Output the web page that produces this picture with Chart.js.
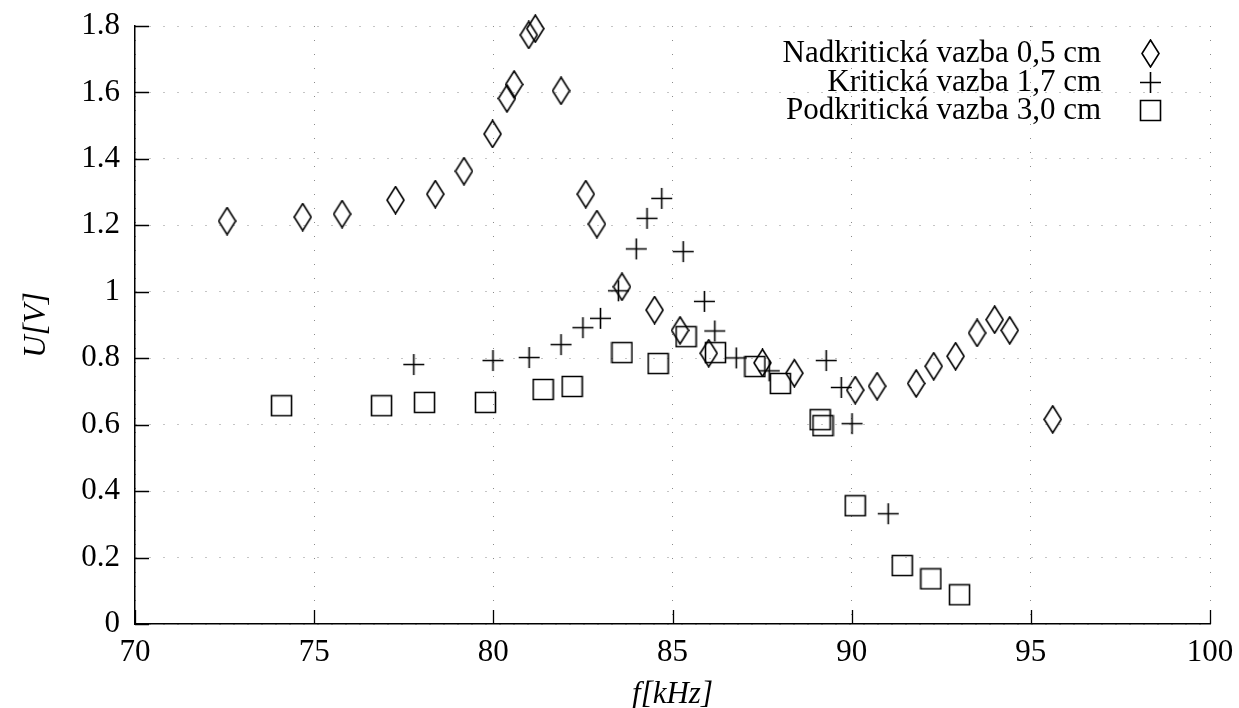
<!DOCTYPE html>
<html>
<head>
<meta charset="utf-8">
<script src="https://cdn.jsdelivr.net/npm/chart.js@4.4.1/dist/chart.umd.min.js"></script>
<style>
  html, body { margin: 0; padding: 0; background: #fff; }
  #wrap { width: 1239px; height: 708px; position: relative; }
</style>
</head>
<body>
<div id="wrap"><canvas id="chart"></canvas></div>
<script>
// values, f in kHz, U in V
const nadF = [72.57, 74.68, 75.78, 77.27, 78.38, 79.18, 79.98, 80.38, 80.58, 80.99, 81.17, 81.89, 82.58, 82.89,
              83.59, 84.50, 85.21, 86.01, 87.51, 88.40, 90.10, 90.71, 91.80, 92.29, 92.90, 93.50, 93.99, 94.41, 95.61];
const nadU = [1.213, 1.225, 1.234, 1.276, 1.294, 1.363, 1.475, 1.582, 1.624, 1.773, 1.792, 1.605, 1.294, 1.204,
              1.015, 0.945, 0.884, 0.815, 0.786, 0.755, 0.704, 0.716, 0.724, 0.776, 0.806, 0.876, 0.916, 0.884, 0.616];

const kritF = [77.78, 79.99, 81.00, 81.89, 82.50, 82.99, 83.49, 83.99, 84.29, 84.70, 85.30, 85.89, 86.18, 86.78,
               87.70, 89.29, 89.71, 90.01, 91.02];
const kritU = [0.781, 0.793, 0.802, 0.841, 0.892, 0.920, 1.003, 1.129, 1.221, 1.281, 1.121, 0.971, 0.882, 0.801,
               0.762, 0.793, 0.712, 0.603, 0.332];

const podF = [74.09, 76.88, 78.08, 79.78, 81.39, 82.20, 83.59, 84.60, 85.38, 86.20, 87.30, 88.01, 89.12, 89.20,
              90.10, 91.41, 92.21, 93.01];
const podU = [0.657, 0.657, 0.667, 0.667, 0.706, 0.715, 0.817, 0.784, 0.865, 0.817, 0.775, 0.724, 0.615, 0.597,
              0.356, 0.176, 0.136, 0.088];

const seriesLabels = ['Nadkritická vazba 0,5 cm', 'Kritická vazba 1,7 cm', 'Podkritická vazba 3,0 cm'];
const xTicks = [70, 75, 80, 85, 90, 95, 100];
const yTicks = [0, 0.2, 0.4, 0.6, 0.8, 1, 1.2, 1.4, 1.6, 1.8];
const yTickLabels = ['0', '0.2', '0.4', '0.6', '0.8', '1', '1.2', '1.4', '1.6', '1.8'];

const FONT = '"Liberation Serif", "Times New Roman", serif';

// gnuplot-like open markers drawn into small canvases
function makeMarker(kind) {
    let c = document.createElement('canvas');
    let w = kind === 'diamond' ? 19 : 23;
    let h = kind === 'diamond' ? 29 : 23;
    c.width = w;
    c.height = h;
    let g = c.getContext('2d');
    g.strokeStyle = '#000';
    g.lineWidth = 1.6;
    g.beginPath();
    if (kind === 'diamond') {
        g.moveTo(w / 2, 1);
        g.lineTo(w - 1, h / 2);
        g.lineTo(w / 2, h - 1);
        g.lineTo(1, h / 2);
        g.closePath();
    } else if (kind === 'cross') {
        g.moveTo(1, h / 2);
        g.lineTo(w - 1, h / 2);
        g.moveTo(w / 2, 1);
        g.lineTo(w / 2, h - 1);
    } else {
        g.rect(1.5, 1.5, w - 3, h - 3);
    }
    g.stroke();
    return c;
}

const toPoints = (xs, ys) => xs.map((x, i) => ({ x: x, y: ys[i] }));

// ticks pointing into the plot, only on left and bottom axis
const innerTicks = {
    id: 'innerTicks',
    afterDatasetsDraw(chart) {
        const { ctx, chartArea, scales } = chart;
        ctx.save();
        ctx.strokeStyle = '#000';
        ctx.lineWidth = 1.3;
        ctx.beginPath();
        xTicks.forEach(v => {
            let px = Math.round(scales.x.getPixelForValue(v)) + 0.5;
            ctx.moveTo(px, chartArea.bottom);
            ctx.lineTo(px, chartArea.bottom - 14);
        });
        yTicks.forEach(v => {
            let py = Math.round(scales.y.getPixelForValue(v)) + 0.5;
            ctx.moveTo(chartArea.left, py);
            ctx.lineTo(chartArea.left + 14, py);
        });
        ctx.stroke();
        ctx.restore();
    }
};

// key in the top right corner: text right aligned, marker after it
const keyBox = {
    id: 'keyBox',
    afterDraw(chart) {
        const ctx = chart.ctx;
        ctx.save();
        ctx.font = '31px ' + FONT;
        ctx.fillStyle = '#000';
        ctx.textAlign = 'right';
        ctx.textBaseline = 'alphabetic';
        chart.data.datasets.forEach((ds, i) => {
            let cy = 51.5 + i * 28.7;
            ctx.fillText(ds.label, 1101, cy + 10.5);
            let img = ds.pointStyle;
            ctx.drawImage(img, Math.round(1150 - img.width / 2), Math.round(cy + 2 - img.height / 2));
        });
        ctx.restore();
    }
};

Chart.defaults.color = '#000';
Chart.defaults.font.family = FONT;

new Chart(document.getElementById('chart'), {
    type: 'scatter',
    data: {
        datasets: [
            { label: seriesLabels[0], data: toPoints(nadF, nadU), pointStyle: makeMarker('diamond'), pointRadius: 10, order: 0, clip: false },
            { label: seriesLabels[1], data: toPoints(kritF, kritU), pointStyle: makeMarker('cross'), pointRadius: 10, order: 1, clip: false },
            { label: seriesLabels[2], data: toPoints(podF, podU), pointStyle: makeMarker('square'), pointRadius: 10, order: 2, clip: false }
        ]
    },
    options: {
        responsive: true,
        maintainAspectRatio: false,
        animation: false,
        layout: { padding: { top: 26, right: 29, left: 0, bottom: 0 } },
        plugins: {
            legend: { display: false },
            tooltip: { enabled: false }
        },
        scales: {
            x: {
                type: 'linear',
                min: 70,
                max: 100,
                afterBuildTicks: s => { s.ticks = xTicks.map(v => ({ value: v })); },
                afterFit: s => { s.height = 84; s.paddingLeft = 0; s.paddingRight = 0; },
                ticks: { font: { size: 31 }, padding: 10, maxRotation: 0 },
                grid: { color: '#8a8a8a', lineWidth: 1, drawTicks: false },
                border: { display: true, color: '#000', width: 1.5, dash: [1, 13] },
                title: {
                    display: true,
                    text: 'f[kHz]',
                    font: { size: 31, style: 'italic', lineHeight: 0.85 },
                    padding: 0
                }
            },
            y: {
                type: 'linear',
                min: 0,
                max: 1.8,
                afterBuildTicks: s => { s.ticks = yTicks.map(v => ({ value: v })); },
                afterFit: s => { s.width = 135; s.paddingTop = 0; s.paddingBottom = 0; },
                ticks: {
                    font: { size: 31 },
                    padding: 15,
                    callback: (value, index) => yTickLabels[index]
                },
                grid: { color: '#8a8a8a', lineWidth: 1, drawTicks: false },
                border: { display: true, color: '#000', width: 1.5, dash: [1, 13] },
                title: {
                    display: true,
                    text: 'U[V]',
                    font: { size: 31, style: 'italic', lineHeight: 1.2 },
                    padding: { top: 18, bottom: 0 }
                }
            }
        }
    },
    plugins: [innerTicks, keyBox]
});
</script>
</body>
</html>
